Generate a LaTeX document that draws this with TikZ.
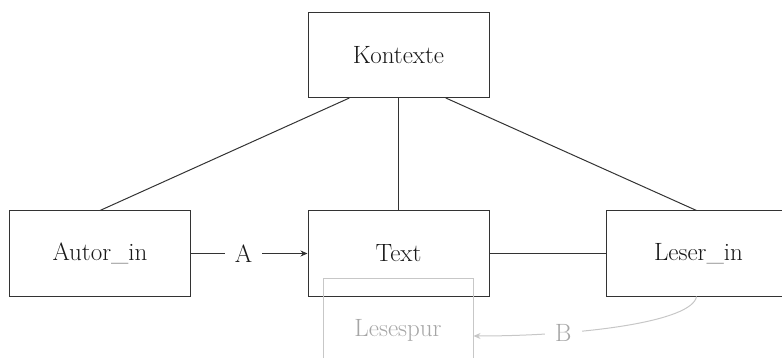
\documentclass[tikz,border=0pt]{standalone}
\usepackage{fontspec}
\usetikzlibrary{calc,arrows.meta}

\begin{document}
\begin{tikzpicture}
  [x=1pt,y=-1pt
  ,every node/.style={font=\fontsize{25}{30}\selectfont}
  ,box/.style={draw=black!80,line width=1pt,minimum width=181pt,minimum height=85pt,inner sep=0pt,text=black!90}
  ,trace/.style={draw=black!22,line width=1pt,text=black!35}
  ,link/.style={draw=black!80,line width=1pt}
  ,lbl/.style={fill=white,inner xsep=10pt,inner ysep=2pt}
  ]

  \useasboundingbox (0,0) rectangle (782,358);

  % boxes
  \node[box] (kontexte) at (398.5,55) {Kontexte};
  \node[box] (autor) at (100,253.5) {Autor\_in};
  \node[box] (text) at (398.5,253.5) {Text};
  \node[box,minimum width=185pt] (leser) at (698.5,253.5) {Leser\_in};

  % reading trace
  \node[trace,minimum width=150pt,minimum height=104pt,inner sep=0pt] (lesespur) at (398,330) {Lesespur};

  % contexts
  \draw[link] ($(kontexte.south west)!0.23!(kontexte.south east)$) -- (autor.north);
  \draw[link] (kontexte) -- (text);
  \draw[link] ($(kontexte.south west)!0.76!(kontexte.south east)$) -- ([xshift=-2pt]leser.north);
  \draw[link] (text) -- (leser);

  % A
  \draw[link,-{Stealth[length=7pt,width=6pt]}] (autor) -- node[lbl,text=black!90,pos=0.45] (a) {A} (text);

  % B
  \draw[trace,-{Stealth[length=7pt,width=6pt]}] ([xshift=-2pt]leser.south) .. controls +(-4,25) and +(110,0) .. node[lbl,text=black!35,pos=0.72] (b) {B} ($(lesespur.east)+(0,6)$);

\end{tikzpicture}
\end{document}
